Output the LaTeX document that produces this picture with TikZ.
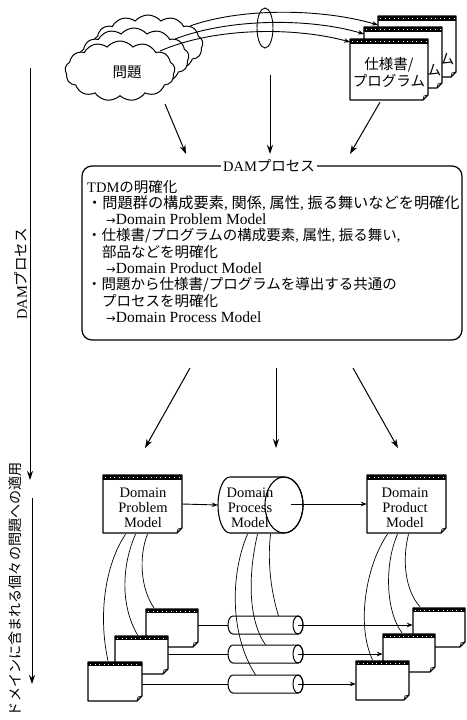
\documentclass[tikz,border=0pt]{standalone}
\usepackage{fontspec}
\setmainfont{Liberation Serif}
\newfontfamily\jp{Noto Sans CJK JP}
\newfontfamily\sym{DejaVu Sans}
\usetikzlibrary{arrows.meta,shapes.symbols,calc}
\newcommand\docat[6]{%
  \fill[white] (#2,#3) -- (#4,#3) -- (#4,{#5-5}) -- ({#4-5},#5) -- (#2,#5) -- cycle;
  \fill[black] (#2,#3) rectangle (#4,{#3+#6});
  \draw[white, line width=0.6pt, dash pattern=on 0.6pt off 4pt] ({#2+2},{#3+#6/2}) -- ({#4-2},{#3+#6/2});
  \draw[docline] (#2,#3) -- (#4,#3) -- (#4,{#5-5}) -- ({#4-5},#5) -- (#2,#5) -- cycle;
  \draw[line width=0.7pt] ({#4-5},#5) -- ({#4-4},{#5-4}) -- (#4,{#5-5});
  \node[inner sep=0, minimum width={(#4-#2)*1pt}, minimum height={(#5-#3)*1pt}] (#1) at ({(#2+#4)/2},{(#3+#5)/2}) {};
}
\newcommand\scyl[2]{%
  \draw[fill=white, line width=1pt] (298,{#2-9}) -- (233,{#2-9}) arc[start angle=270, end angle=90, x radius=5, y radius=9] -- (298,{#2+9}) arc[start angle=90, end angle=-90, x radius=5, y radius=9];
  \draw[line width=1pt] (298,#2) ellipse[x radius=5, y radius=9];
  \node[inner sep=0, minimum width=75pt, minimum height=18pt] (#1) at (265.5,#2) {};
  \coordinate (#1r) at (298,#2);
}
\newcommand\rarr{{\sym\fontsize{11.5}{11}\selectfont →}}
\begin{document}
\begin{tikzpicture}[x=1pt, y=-1pt, font=\fontsize{14.5}{16.3}\selectfont,
  docline/.style={line width=1.1pt, line join=round},
  arr/.style={line width=1pt, -{Stealth[length=9pt, width=6pt]}},
  sarr/.style={line width=0.9pt, -{Stealth[length=6pt, width=4.5pt]}},
  thinline/.style={line width=0.7pt},
  txt/.style={inner sep=0, anchor=base west},
  ltxt/.style={inner sep=0, anchor=base west, font=\fontsize{15.5}{16.3}\selectfont},
  cloudy/.style={cloud, cloud puffs=13, cloud puff arc=100, cloud ignores aspect, minimum width=110pt, minimum height=60pt, draw, fill=white, line width=1pt, inner sep=0}]
\useasboundingbox (0,0) rectangle (466,720);

% clouds
\node[cloudy] (cl3) at (148,45) {};
\node[cloudy] (cl2) at (134,58) {};
\node[cloudy] (cl1) at (120,71) {};
\node (q) at (127,72) {\jp 問題};

% spec documents
\docat{sp3}{378}{16}{456}{77}{5}
\node[inner sep=0, font=\fontsize{14.5}{17}\selectfont\jp] (sp3t) at (447,59) {ム};
\docat{sp2}{364}{27}{442}{88}{5}
\node[inner sep=0, font=\fontsize{14.5}{17}\selectfont\jp] (sp2t) at (434,70) {ム};
\docat{sp1}{350}{39}{428}{100}{5}
\node[align=center, font=\fontsize{14.5}{17}\selectfont\jp] (sp1t) at (389,72) {仕様書/\\プログラム};

% curved arrows clouds -> documents
\coordinate (s1) at (190,26); \coordinate (e1) at (378,25);
\coordinate (s2) at (175,39); \coordinate (e2) at (364,34);
\coordinate (s3) at (160,51); \coordinate (e3) at (350,42);
\draw[sarr] (s1) .. controls (240,8) and (320,8) .. (e1);
\draw[sarr] (s2) .. controls (230,18) and (310,18) .. (e2);
\draw[sarr] (s3) .. controls (215,27) and (295,27) .. (e3);
\draw[line width=0.9pt] (265,28) ellipse[x radius=8, y radius=20];

% arrows into DAM box
\coordinate (t1s) at (165,104); \coordinate (t1e) at (186,154);
\coordinate (t2s) at (270,75);  \coordinate (t2e) at (270,154);
\coordinate (t3e) at (350,154);
\draw[arr] (t1s) -- (t1e);
\draw[arr] (t2s) -- (t2e);
\draw[arr] ($(sp1.south)+(-9,2)$) -- (t3e);

% DAM box
\node[draw, line width=1.2pt, rounded corners=10pt, minimum width=380pt, minimum height=174pt, inner sep=0] (dam) at (272,253) {};
\node[fill=white, inner sep=2pt] (damlbl) at (269,166) {DAM{\jp プロセス}};
\node[txt] (l1) at (87,192) {TDM{\jp の明確化}};
\node[txt, font=\fontsize{15.2}{16.3}\selectfont] (l2) at (87,208.3) {{\jp ・問題群の構成要素}, {\jp 関係}, {\jp 属性}, {\jp 振る舞いなどを明確化}};
\node[ltxt] (l3) at (106,224.6) {\rarr Domain Problem Model};
\node[txt] (l4) at (87,240.9) {{\jp ・仕様書/プログラムの構成要素}, {\jp 属性}, {\jp 振る舞い},};
\node[txt] (l5) at (102,257.2) {{\jp 部品などを明確化}};
\node[ltxt] (l6) at (106,273.5) {\rarr Domain Product Model};
\node[txt] (l7) at (87,289.8) {{\jp ・問題から仕様書/プログラムを導出する共通の}};
\node[txt] (l8) at (102,306.1) {{\jp プロセスを明確化}};
\node[ltxt] (l9) at (106,322.4) {\rarr Domain Process Model};

% arrows out of DAM box
\coordinate (b1s) at (190,368); \coordinate (b1e) at (145,448);
\coordinate (b2s) at (276,368); \coordinate (b2e) at (276,448);
\coordinate (b3s) at (353,368); \coordinate (b3e) at (398,448);
\draw[arr] (b1s) -- (b1e);
\draw[arr] (b2s) -- (b2e);
\draw[arr] (b3s) -- (b3e);

% left side arrows and labels
\coordinate (la1s) at (30,68); \coordinate (la1e) at (30,480);
\coordinate (la2s) at (32,498); \coordinate (la2e) at (32,684);
\draw[arr] (la1s) -- (la1e);
\draw[arr] (la2s) -- (la2e);
\node[rotate=90, inner sep=0] (lab1) at (21,274) {DAM{\jp プロセス}};
\node[rotate=90, inner sep=0, anchor=east, font=\fontsize{14.1}{15}\selectfont] (lab2) at (15,462) {\jp ドメインに含まれる個々の問題への適用};

% domain models
\docat{pm}{103}{475}{182}{533}{5}
\node[align=center, inner sep=0, font=\fontsize{14.5}{15}\selectfont] (pmt) at (143,508) {Domain\\Problem\\Model};
\docat{pd}{367}{475}{446}{533}{5}
\node[align=center, inner sep=0, font=\fontsize{14.5}{15}\selectfont] (pdt) at (405,508) {Domain\\Product\\Model};
\draw[fill=white, line width=1.1pt] (284,477) -- (230,477) arc[start angle=270, end angle=90, x radius=12, y radius=28] -- (284,533) arc[start angle=90, end angle=-90, x radius=19, y radius=28];
\draw[line width=1.1pt] (284,505) ellipse[x radius=19, y radius=28];
\node[inner sep=0, minimum width=85pt, minimum height=56pt] (dpm) at (260.5,505) {};
\node[align=center, inner sep=0, font=\fontsize{14.5}{15}\selectfont] (dpmt) at (250,508) {Domain\\Process\\Model};
\coordinate (dpmc) at (291,504);
\draw[sarr] (pm.east) -- (dpm.west);
\draw[sarr] (dpmc) -- (pd.west);

% instances
\scyl{sc1}{625}
\scyl{sc2}{654}
\scyl{sc3}{684}
\docat{sl3}{146}{609}{198}{647}{4}
\docat{sl2}{115}{636}{168}{674}{4}
\docat{sl1}{88}{662}{142}{701}{4}
\docat{sr3}{413}{608}{465}{647}{4}
\docat{sr2}{383}{634}{435}{672}{4}
\docat{sr1}{356}{661}{409}{700}{4}

\draw[line width=0.9pt] (sl3.east |- sc1.west) -- (sc1.west);
\draw[line width=0.9pt] (sl2.east |- sc2.west) -- (sc2.west);
\draw[line width=0.9pt] (sl1.east |- sc3.west) -- (sc3.west);
\draw[sarr] (sc1r) -- (sc1r -| sr3.west);
\draw[sarr] (sc2r) -- (sc2r -| sr2.west);
\draw[sarr] (sc3r) -- (sc3r -| sr1.west);

% curves from models to instances
\draw[thinline] ($(pm.south)+(-17,1)$) .. controls (105,565) and (98,615) .. ($(sl1.north)+(-7,-1)$);
\draw[thinline] ($(pm.south)+(-7,1)$) .. controls (122,565) and (120,605) .. ($(sl2.north)+(-4,-1)$);
\draw[thinline] ($(pm.south)+(5,1)$) .. controls (139,555) and (140,588) .. ($(sl3.north)+(-18,-1)$);
\draw[thinline] ($(dpm.south)+(-13,1)$) .. controls (230,575) and (230,635) .. ($(sc3.north)+(-10,0)$);
\draw[thinline] ($(dpm.south)+(-3,1)$) .. controls (248,575) and (248,620) .. (sc2.north);
\draw[thinline] ($(dpm.south)+(10,1)$) .. controls (267,565) and (272,595) .. ($(sc1.north)+(13,0)$);
\draw[thinline] ($(pd.south)+(-19,1)$) .. controls (366,565) and (356,625) .. ($(sr1.north)+(-10,-1)$);
\draw[thinline] ($(pd.south)+(-9,1)$) .. controls (384,565) and (386,612) .. ($(sr2.north)+(-7,-1)$);
\draw[thinline] ($(pd.south)+(2,1)$) .. controls (402,560) and (405,590) .. ($(sr3.north)+(-19,-1)$);
\end{tikzpicture}
\end{document}
